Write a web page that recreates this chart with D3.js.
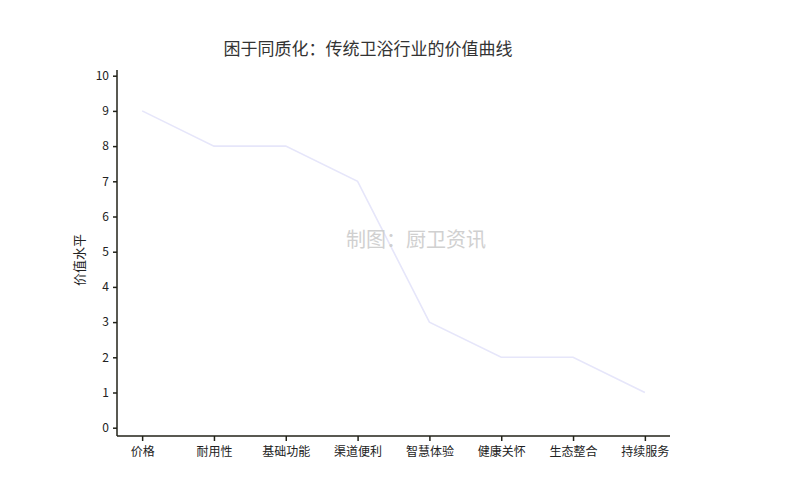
<!DOCTYPE html>
<html>
<head>
<meta charset="utf-8">
<script src="https://cdn.jsdelivr.net/npm/d3@7"></script>
<style>
  body { margin: 0; background: #fff; }
  text { font-family: "Noto Sans CJK SC", "DejaVu Sans", sans-serif; }
</style>
</head>
<body>
<svg id="chart" width="800" height="496"></svg>
<script>
// chart data
const categories = ["价格", "耐用性", "基础功能", "渠道便利", "智慧体验", "健康关怀", "生态整合", "持续服务"];
const values = [9, 8, 8, 7, 3, 2, 2, 1];
const yTicks = [0, 1, 2, 3, 4, 5, 6, 7, 8, 9, 10];

var svg = d3.select('#chart');
var axisColor = '#222218';

// plot box (spines are offset from the data area)
var box = { l: 117, r: 670, t: 70, b: 436 };

var x = d3.scalePoint()
  .domain(categories)
  .range([box.l, box.r])
  .padding(0.35);

var y = d3.scaleLinear()
  .domain([0, 10])
  .range([427.7, 75.7]);

// title
svg.append('text')
  .attr('x', 368).attr('y', 55)
  .attr('text-anchor', 'middle')
  .attr('font-size', '17px')
  .attr('fill', '#333')
  .text('困于同质化：传统卫浴行业的价值曲线');

// y axis
var yAxis = svg.append('g')
  .attr('transform', `translate(${box.l},0)`)
  .call(d3.axisLeft(y).tickValues(yTicks).tickSize(4).tickPadding(4).tickSizeOuter(0));
yAxis.select('.domain').remove();
yAxis.append('line')
  .attr('x1', 0).attr('x2', 0)
  .attr('y1', box.t).attr('y2', box.b)
  .attr('stroke', axisColor).attr('stroke-width', 1.5);

// x axis
var xAxis = svg.append('g')
  .attr('transform', `translate(0,${box.b})`)
  .call(d3.axisBottom(x).tickSize(5).tickPadding(6).tickSizeOuter(0));
xAxis.select('.domain').remove();
xAxis.append('line')
  .attr('x1', box.l).attr('x2', box.r)
  .attr('y1', 0).attr('y2', 0)
  .attr('stroke', axisColor).attr('stroke-width', 1.5);

[yAxis, xAxis].forEach(function(g) {
  g.selectAll('.tick line').attr('stroke', axisColor).attr('stroke-width', 1.5);
  g.selectAll('.tick text')
    .attr('fill', '#222')
    .style('font-size', '12px')
    .style('font-family', '"Noto Sans CJK SC", "DejaVu Sans", sans-serif');
});

// y label
svg.append('text')
  .attr('transform', 'translate(84,260) rotate(-90)')
  .attr('text-anchor', 'middle')
  .attr('font-size', '13px')
  .attr('fill', '#222')
  .text('价值水平');

// value curve
var line = d3.line()
  .x((d, i) => x(categories[i]))
  .y(d => y(d));

svg.append('path')
  .datum(values)
  .attr('d', line)
  .attr('fill', 'none')
  .attr('stroke', '#e6e6fa')
  .attr('stroke-width', 1.6);

// watermark
svg.append('text')
  .attr('x', 416).attr('y', 247)
  .attr('text-anchor', 'middle')
  .attr('font-size', '20px')
  .attr('fill', '#cccccc')
  .attr('opacity', 0.9)
  .text('制图：厨卫资讯');
</script>
</body>
</html>
